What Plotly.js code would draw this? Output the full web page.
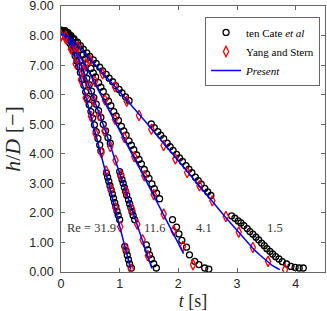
<!DOCTYPE html>
<html>
<head>
<meta charset="utf-8">
<script src="https://cdn.plot.ly/plotly-3.0.1.min.js"></script>
<style>html,body{margin:0;padding:0;background:#fff;}#chart{width:327px;height:311px;}</style>
</head>
<body>
<div id="chart"></div>
<script>
// ---- Re = 31.9 ----
const cate319T = [0.00,0.03,0.06,0.09,0.12,0.15,0.18,0.21,0.24,0.27,0.30,0.33,0.36,0.39,0.42,0.45,0.48,0.51,0.54,0.57,0.60,0.63,0.66,0.68,0.775,0.795,0.815,0.835,0.855,0.875,0.895,0.915,0.935,0.955,0.975,1.00,1.087,1.11,1.13,1.15,1.17,1.20];
const cate319H = [8.18,8.17,8.10,7.98,7.90,7.74,7.62,7.49,7.32,7.14,6.95,6.75,6.53,6.32,6.10,5.88,5.66,5.43,5.21,4.98,4.75,4.52,4.30,4.10,3.35,3.21,3.07,2.92,2.78,2.64,2.50,2.35,2.21,2.06,1.92,1.77,0.87,0.72,0.57,0.42,0.27,0.135];
const yang319T = [0.00,0.08,0.17,0.25,0.34,0.42,0.51,0.59,0.69,0.77,0.85,0.93,1.01,1.10,1.19];
const yang319H = [8.00,7.90,7.55,7.05,6.50,5.90,5.27,4.68,4.04,3.42,2.80,2.17,1.53,0.80,0.10];
const present319T = [0,0.1,0.2,0.3,0.4,0.5,0.6,0.8,1.0,1.1,1.19];
const present319H = [8.05,7.87,7.45,6.82,6.10,5.36,4.60,3.08,1.55,0.78,0.08];

// ---- Re = 11.6 ----
const cate116T = [0.00,0.04,0.08,0.12,0.16,0.20,0.24,0.28,0.32,0.36,0.40,0.44,0.48,0.52,0.56,0.60,0.64,0.68,0.72,0.76,0.80,0.84,1.00,1.02,1.04,1.06,1.08,1.10,1.12,1.15,1.17,1.19,1.21,1.23,1.255,1.455,1.48,1.51,1.54,1.58,1.625];
const cate116H = [8.18,8.16,8.08,7.98,7.85,7.70,7.53,7.35,7.16,6.96,6.76,6.55,6.34,6.12,5.90,5.68,5.46,5.23,5.00,4.78,4.55,4.36,3.40,3.27,3.13,3.00,2.86,2.73,2.60,2.44,2.31,2.18,2.04,1.91,1.77,0.92,0.75,0.58,0.44,0.28,0.135];
const yang116T = [0.00,0.09,0.19,0.28,0.37,0.46,0.56,0.65,0.74,0.84,0.93,1.02,1.11,1.21,1.30,1.39,1.48];
const yang116H = [8.00,7.93,7.62,7.24,6.82,6.33,5.80,5.30,4.77,4.25,3.78,3.28,2.72,2.12,1.62,1.09,0.55];
const present116T = [0,0.1,0.2,0.3,0.4,0.5,0.6,0.7,0.8,0.9,1.0,1.1,1.2,1.3,1.4,1.5,1.55];
const present116H = [8.05,7.92,7.62,7.2,6.72,6.2,5.66,5.1,4.52,3.94,3.38,2.78,2.18,1.6,1.03,0.45,0.12];

// ---- Re = 4.1 ----
const cate41T = [0.00,0.04,0.08,0.12,0.16,0.20,0.25,0.29,0.33,0.38,0.42,0.46,0.51,0.55,0.59,0.64,0.68,0.72,0.77,0.81,0.85,0.90,0.94,0.98,1.03,1.07,1.11,1.16,1.20,1.24,1.29,1.33,1.37,1.42,1.46,1.50,1.55,1.59,1.63,1.68,1.90,1.97,2.01,2.06,2.14,2.19,2.28,2.35,2.45,2.52];
const cate41H = [8.18,8.17,8.12,8.05,7.96,7.88,7.77,7.66,7.53,7.36,7.22,7.08,6.89,6.74,6.60,6.41,6.26,6.11,5.93,5.78,5.63,5.43,5.28,5.13,4.93,4.78,4.63,4.44,4.29,4.14,3.96,3.81,3.66,3.47,3.32,3.17,2.98,2.82,2.67,2.48,1.77,1.52,1.29,1.07,0.84,0.58,0.36,0.25,0.135,0.10];
const yang41T = [0.00,0.08,0.25,0.42,0.58,0.75,0.92,1.08,1.25,1.42,1.58,1.75,1.92,2.08,2.25];
const yang41H = [8.00,7.98,7.62,7.05,6.45,5.82,5.17,4.55,3.90,3.26,2.62,1.96,1.40,0.87,0.25];
const present41T = [0,0.1,0.2,0.3,0.4,0.5,0.6,0.8,1.0,1.2,1.4,1.6,1.8,2.0,2.09];
const present41H = [8.05,7.95,7.72,7.4,7.04,6.67,6.3,5.55,4.78,4.03,3.28,2.52,1.76,0.98,0.62];

// ---- Re = 1.5 ----
const cate15T = [0.02,0.07,0.12,0.17,0.22,0.28,0.33,0.38,0.44,0.49,0.55,0.60,0.66,0.71,0.77,0.82,0.88,0.93,0.99,1.04,1.10,1.16,1.54,1.59,1.65,1.70,1.75,1.81,1.86,1.91,1.97,2.02,2.07,2.13,2.18,2.23,2.29,2.34,2.39,2.45,2.50,2.555,2.908,2.964,3.021,3.067,3.118,3.174,3.22,3.271,3.323,3.369,3.42,3.465,3.51,3.562,3.607,3.659,3.715,3.772,3.846,3.92,3.99,4.06,4.13];
const cate15H = [8.18,8.17,8.10,8.00,7.90,7.78,7.66,7.54,7.42,7.30,7.18,7.06,6.93,6.81,6.69,6.56,6.44,6.31,6.18,6.06,5.93,5.80,5.01,4.89,4.75,4.63,4.51,4.36,4.24,4.12,3.98,3.86,3.74,3.60,3.48,3.36,3.21,3.09,2.97,2.83,2.71,2.59,1.90,1.82,1.73,1.66,1.57,1.47,1.37,1.28,1.18,1.09,0.98,0.89,0.79,0.70,0.61,0.52,0.44,0.35,0.27,0.19,0.155,0.135,0.135];
const yang15T = [0.00,0.08,0.29,0.50,0.71,0.92,1.12,1.33,1.54,1.75,1.95,2.15,2.36,2.58,2.81,3.03,3.27,3.53,3.82];
const yang15H = [8.00,7.98,7.62,7.17,6.71,6.27,5.78,5.30,4.83,4.28,3.83,3.37,2.92,2.41,1.88,1.35,0.83,0.36,0.08];
const present15T = [0,0.1,0.2,0.5,1.0,1.5,2.0,2.5,2.8,3.0,3.2,3.3,3.4,3.5,3.6,3.7,3.73];
const present15H = [8.05,8.0,7.85,7.2,6.1,4.95,3.78,2.58,1.86,1.4,0.95,0.74,0.56,0.38,0.22,0.11,0.08];

// ---- labels ----
const seriesNames = ['ten Cate <i>et al</i>', 'Yang and Stern', '<i>Present</i>'];
const reLabels = ['Re = 31.9', '11.6', '4.1', '1.5'];
const xTickVals = [0, 1, 2, 3, 4];
const yTickVals = [0, 1, 2, 3, 4, 5, 6, 7, 8, 9];

const groups = [
  [cate319T, cate319H, yang319T, yang319H, present319T, present319H],
  [cate116T, cate116H, yang116T, yang116H, present116T, present116H],
  [cate41T, cate41H, yang41T, yang41H, present41T, present41H],
  [cate15T, cate15H, yang15T, yang15H, present15T, present15H]
];

const traces = [];
groups.forEach((g, i) => {
  traces.push({x: g[0], y: g[1], mode: 'markers', type: 'scatter', name: seriesNames[0],
    legendgroup: 'c', showlegend: i === 0, legendrank: 1,
    marker: {symbol: 'circle-open', size: 6, color: '#000', line: {width: 1.3, color: '#000'}}});
  traces.push({x: g[2], y: g[3], mode: 'markers', type: 'scatter', name: seriesNames[1],
    legendgroup: 'y', showlegend: i === 0, legendrank: 2,
    marker: {symbol: 'diamond-tall-open', size: 7.5, color: '#ff0000', line: {width: 1.3, color: '#ff0000'}}});
  traces.push({x: g[4], y: g[5], mode: 'lines', type: 'scatter', name: seriesNames[2],
    legendgroup: 'p', showlegend: i === 0, legendrank: 3,
    line: {color: '#0000ff', width: 1.5}});
});

const axisCommon = {
  ticks: 'inside', ticklen: 4, tickwidth: 0.8, tickcolor: '#404040',
  showline: true, linecolor: '#404040', linewidth: 0.8, mirror: 'allticks',
  showgrid: false, zeroline: false,
  tickfont: {family: 'Liberation Sans, Arial, sans-serif', size: 12.5, color: '#262626'}
};

const layout = {
  width: 327, height: 311,
  margin: {l: 61, r: 2, t: 6, b: 39},
  paper_bgcolor: '#fff', plot_bgcolor: '#fff',
  xaxis: Object.assign({}, axisCommon, {
    range: [0, 4.5], tickvals: xTickVals, ticktext: xTickVals.map(String),
    ticklabelstandoff: 0,
    title: {text: '<i>t</i> [s]', standoff: 0, font: {family: 'Liberation Serif, serif', size: 18, color: '#262626'}}
  }),
  yaxis: Object.assign({}, axisCommon, {
    range: [0, 9.004], tickvals: yTickVals, tickformat: '.2f',
    ticklabelstandoff: 4, ticklabeloverflow: 'allow',
    title: {text: '<i>h</i>/<i>D</i> [−]', standoff: 6, font: {family: 'Liberation Serif, serif', size: 22, color: '#262626'}}
  }),
  showlegend: true,
  legend: {
    x: 0.982, xanchor: 'right', y: 0.958, yanchor: 'top',
    bgcolor: '#fff', bordercolor: '#404040', borderwidth: 0.8,
    font: {family: 'Liberation Serif, serif', size: 11, color: '#000'},
    tracegroupgap: 0, itemwidth: 30
  },
  annotations: [
    {x: 0.06, y: 1.49, xanchor: 'left', text: reLabels[0]},
    {x: 1.60, y: 1.49, xanchor: 'center', text: reLabels[1]},
    {x: 2.44, y: 1.49, xanchor: 'center', text: reLabels[2]},
    {x: 3.65, y: 1.49, xanchor: 'center', text: reLabels[3]}
  ].map(a => Object.assign(a, {xref: 'x', yref: 'y', yanchor: 'middle', showarrow: false,
     font: {family: 'Liberation Serif, serif', size: 12.5, color: '#333'}}))
};

Plotly.newPlot('chart', traces, layout, {displayModeBar: false, staticPlot: true});
</script>
</body>
</html>
